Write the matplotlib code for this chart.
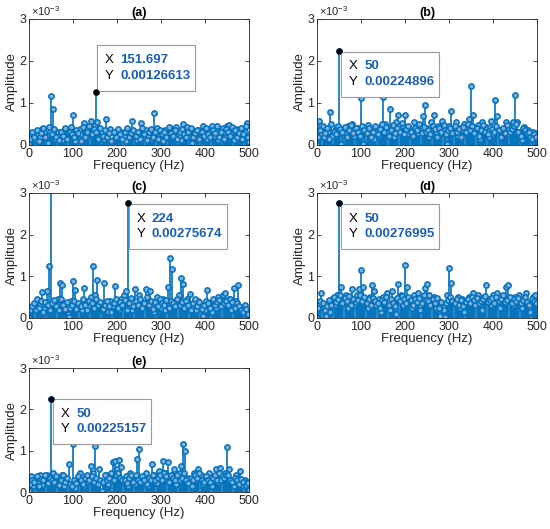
import numpy as np
from matplotlib import pyplot as plt

plt.rcParams['font.family'] = ['Liberation Sans', 'DejaVu Sans']
plt.rcParams['mathtext.fontset'] = 'custom'
plt.rcParams['mathtext.rm'] = 'Liberation Sans'

# frequency grids (Hz), amplitudes in units of 1e-3
freq = np.arange(0, 505, 5)
freq_mid = np.arange(2.5, 500, 5)

amp_a = [0.02, 0.22, 0.28, 0.12, 0.25, 0.18, 0.38, 0.32, 0.22, 0.42,
         1.17, 0.85, 0.15, 0.30, 0.22, 0.12, 0.35, 0.20, 0.28, 0.42,
         0.72, 0.10, 0.25, 0.38, 0.15, 0.53, 0.22, 0.30, 0.58, 0.35,
         0.48, 0.55, 0.20, 0.30, 0.15, 0.62, 0.28, 0.38, 0.12, 0.25,
         0.33, 0.18, 0.30, 0.22, 0.10, 0.32, 0.25, 0.57, 0.20, 0.12,
         0.28, 0.52, 0.18, 0.35, 0.22, 0.30, 0.15, 0.75, 0.40, 0.22,
         0.28, 0.10, 0.35, 0.25, 0.40, 0.18, 0.30, 0.42, 0.22, 0.12,
         0.50, 0.28, 0.42, 0.20, 0.05, 0.30, 0.25, 0.35, 0.18, 0.45,
         0.28, 0.15, 0.32, 0.45, 0.22, 0.38, 0.12, 0.28, 0.40, 0.20,
         0.45, 0.48, 0.25, 0.12, 0.38, 0.22, 0.35, 0.15, 0.30, 0.53,
         0.08]
mid_a = [0.15, 0.30, 0.20, 0.35, 0.10, 0.28, 0.40, 0.18, 0.05, 0.30,
         0.25, 0.38, 0.20, 0.12, 0.30, 0.22, 0.40, 0.15, 0.32, 0.25,
         0.18, 0.35, 0.28, 0.10, 0.42, 0.20, 0.30, 0.45, 0.25, 0.38,
         0.30, 0.15, 0.40, 0.22, 0.35, 0.18, 0.28, 0.10, 0.32, 0.20,
         0.38, 0.25, 0.15, 0.30, 0.40, 0.18, 0.28, 0.35, 0.22, 0.30,
         0.15, 0.40, 0.25, 0.12, 0.32, 0.38, 0.20, 0.30, 0.15, 0.35,
         0.25, 0.30, 0.18, 0.42, 0.28, 0.22, 0.35, 0.15, 0.30, 0.38,
         0.25, 0.18, 0.32, 0.40, 0.20, 0.28, 0.35, 0.15, 0.30, 0.22,
         0.40, 0.25, 0.18, 0.35, 0.28, 0.45, 0.20, 0.32, 0.15, 0.38,
         0.30, 0.22, 0.42, 0.35, 0.18, 0.28, 0.40, 0.25, 0.45, 0.20]

amp_b = [0.00, 0.57, 0.25, 0.18, 0.38, 0.30, 0.78, 0.22, 0.35, 0.42,
         2.249, 0.02, 0.38, 0.25, 0.45, 0.30, 0.50, 0.22, 0.40, 0.35,
         1.12, 0.02, 0.30, 0.48, 0.25, 0.35, 0.15, 0.30, 0.22, 0.45,
         1.15, 0.50, 0.28, 0.85, 0.40, 0.18, 0.55, 0.72, 0.30, 0.45,
         0.72, 0.25, 0.40, 0.18, 0.55, 0.35, 0.28, 0.45, 0.68, 0.95,
         0.40, 0.20, 0.55, 0.72, 0.30, 0.45, 0.25, 0.58, 0.38, 0.02,
         0.45, 0.82, 0.30, 0.55, 0.22, 0.40, 0.35, 0.50, 0.28, 0.62,
         1.40, 0.72, 0.35, 0.48, 0.15, 0.55, 0.30, 0.42, 0.20, 0.58,
         0.25, 1.07, 0.68, 0.35, 0.18, 0.30, 0.55, 0.25, 0.45, 0.55,
         1.20, 0.55, 0.30, 0.12, 0.42, 0.25, 0.35, 0.18, 0.32, 0.20,
         0.28]
mid_b = [0.20, 0.35, 0.45, 0.28, 0.40, 0.15, 0.50, 0.32, 0.25, 0.45,
         0.38, 0.30, 0.42, 0.20, 0.35, 0.48, 0.28, 0.40, 0.30, 0.22,
         0.45, 0.35, 0.28, 0.40, 0.18, 0.32, 0.45, 0.25, 0.38, 0.50,
         0.30, 0.42, 0.22, 0.35, 0.48, 0.28, 0.40, 0.32, 0.52, 0.25,
         0.38, 0.45, 0.30, 0.22, 0.40, 0.35, 0.50, 0.28, 0.42, 0.30,
         0.35, 0.25, 0.45, 0.38, 0.20, 0.40, 0.30, 0.48, 0.25, 0.35,
         0.40, 0.28, 0.45, 0.32, 0.38, 0.20, 0.42, 0.30, 0.50, 0.35,
         0.45, 0.28, 0.40, 0.22, 0.35, 0.48, 0.30, 0.25, 0.42, 0.38,
         0.30, 0.45, 0.35, 0.20, 0.40, 0.28, 0.48, 0.32, 0.38, 0.45,
         0.50, 0.30, 0.22, 0.40, 0.35, 0.28, 0.30, 0.15, 0.25, 0.20]

amp_c = [0.00, 0.25, 0.32, 0.18, 0.42, 0.30, 0.62, 0.22, 0.65, 1.25,
         3.60, 0.35, 0.30, 0.45, 0.85, 0.80, 0.35, 0.20, 0.02, 0.40,
         0.88, 0.68, 0.25, 0.30, 0.18, 0.72, 0.40, 0.28, 0.50, 1.25,
         0.55, 0.92, 0.30, 0.20, 0.85, 0.35, 0.15, 0.40, 0.28, 0.77,
         0.35, 0.20, 0.45, 0.55, 0.65, 0.40, 0.25, 0.18, 0.70, 0.35,
         0.55, 0.40, 0.28, 0.70, 0.45, 0.65, 0.30, 0.15, 0.50, 0.35,
         0.25, 0.45, 0.20, 0.75, 1.45, 1.17, 0.30, 0.40, 0.55, 0.97,
         0.82, 0.30, 0.45, 0.57, 0.25, 0.35, 0.18, 0.40, 0.28, 0.05,
         0.20, 0.67, 0.35, 0.15, 0.40, 0.25, 0.50, 0.35, 0.55, 0.60,
         0.30, 0.45, 0.20, 0.72, 0.40, 0.80, 0.25, 0.15, 0.30, 0.12,
         0.05]
mid_c = [0.18, 0.28, 0.35, 0.45, 0.25, 0.40, 0.15, 0.38, 0.30, 0.20,
         0.35, 0.42, 0.28, 0.18, 0.45, 0.30, 0.22, 0.38, 0.25, 0.32,
         0.40, 0.22, 0.35, 0.28, 0.45, 0.30, 0.18, 0.40, 0.35, 0.25,
         0.45, 0.30, 0.38, 0.22, 0.32, 0.40, 0.28, 0.15, 0.35, 0.45,
         0.25, 0.38, 0.30, 0.42, 0.20, 0.35, 0.48, 0.28, 0.40, 0.30,
         0.45, 0.25, 0.35, 0.50, 0.30, 0.40, 0.22, 0.38, 0.28, 0.45,
         0.35, 0.30, 0.42, 0.25, 0.40, 0.35, 0.28, 0.45, 0.30, 0.38,
         0.25, 0.40, 0.32, 0.20, 0.35, 0.45, 0.28, 0.38, 0.22, 0.30,
         0.40, 0.35, 0.25, 0.45, 0.30, 0.38, 0.42, 0.28, 0.35, 0.40,
         0.30, 0.45, 0.38, 0.25, 0.35, 0.28, 0.20, 0.15, 0.22, 0.10]

amp_d = [0.00, 0.30, 0.60, 0.25, 0.05, 0.35, 0.15, 0.45, 0.30, 0.55,
         2.77, 0.75, 0.40, 0.55, 0.25, 0.45, 0.70, 0.30, 0.55, 0.70,
         1.15, 0.75, 0.40, 0.25, 0.50, 0.78, 0.65, 0.30, 0.45, 0.15,
         0.50, 0.35, 0.60, 0.20, 0.65, 0.40, 0.10, 0.82, 0.55, 0.30,
         1.27, 0.75, 0.40, 0.25, 0.55, 0.35, 0.60, 0.20, 0.45, 0.72,
         0.82, 0.55, 0.30, 0.50, 0.25, 0.40, 0.05, 0.35, 0.02, 0.55,
         1.20, 0.85, 0.40, 0.30, 0.50, 0.25, 0.45, 0.15, 0.35, 0.50,
         0.40, 0.60, 0.30, 0.55, 0.45, 0.20, 0.50, 0.78, 0.45, 0.30,
         0.55, 0.40, 0.60, 0.25, 0.45, 0.35, 0.75, 0.78, 0.45, 0.30,
         0.50, 0.40, 0.55, 0.25, 0.45, 0.60, 0.35, 0.15, 0.50, 0.55,
         0.30]
mid_d = [0.25, 0.40, 0.35, 0.20, 0.28, 0.42, 0.30, 0.50, 0.38, 0.45,
         0.55, 0.35, 0.48, 0.40, 0.52, 0.30, 0.45, 0.38, 0.42, 0.55,
         0.40, 0.50, 0.35, 0.45, 0.30, 0.48, 0.40, 0.35, 0.25, 0.42,
         0.38, 0.50, 0.30, 0.45, 0.35, 0.28, 0.48, 0.40, 0.52, 0.45,
         0.35, 0.50, 0.42, 0.30, 0.45, 0.38, 0.48, 0.35, 0.55, 0.42,
         0.40, 0.30, 0.45, 0.35, 0.48, 0.25, 0.38, 0.20, 0.35, 0.42,
         0.50, 0.40, 0.35, 0.45, 0.30, 0.42, 0.28, 0.38, 0.45, 0.35,
         0.50, 0.42, 0.48, 0.35, 0.40, 0.45, 0.52, 0.38, 0.42, 0.48,
         0.35, 0.50, 0.40, 0.45, 0.55, 0.38, 0.42, 0.50, 0.35, 0.45,
         0.40, 0.48, 0.35, 0.42, 0.50, 0.38, 0.30, 0.45, 0.40, 0.35]

amp_e = [0.02, 0.38, 0.15, 0.30, 0.22, 0.40, 0.18, 0.35, 0.42, 0.28,
         2.25, 0.45, 0.30, 0.20, 0.35, 0.42, 0.15, 0.30, 0.67, 0.20,
         1.15, 0.10, 0.25, 0.45, 0.30, 0.15, 0.38, 0.25, 0.62, 0.45,
         1.12, 0.30, 0.55, 0.02, 0.25, 0.40, 0.20, 0.35, 0.72, 0.75,
         0.55, 0.78, 0.60, 0.25, 0.38, 0.15, 0.45, 0.30, 0.20, 0.80,
         1.05, 0.35, 0.25, 0.45, 0.15, 0.30, 0.67, 0.40, 0.22, 0.50,
         0.35, 0.75, 0.45, 0.72, 0.28, 0.40, 0.55, 0.20, 0.45, 0.62,
         1.15, 1.00, 0.35, 0.25, 0.15, 0.45, 0.30, 0.55, 0.40, 0.20,
         0.35, 0.28, 0.45, 0.15, 0.30, 0.55, 0.25, 0.58, 0.30, 0.45,
         1.10, 0.55, 0.30, 0.15, 0.40, 0.22, 0.52, 0.18, 0.30, 0.25,
         0.05]
mid_e = [0.20, 0.30, 0.25, 0.38, 0.15, 0.32, 0.28, 0.40, 0.22, 0.35,
         0.30, 0.25, 0.38, 0.18, 0.30, 0.40, 0.25, 0.35, 0.20, 0.15,
         0.30, 0.22, 0.38, 0.28, 0.20, 0.35, 0.42, 0.30, 0.38, 0.25,
         0.35, 0.20, 0.30, 0.25, 0.40, 0.28, 0.35, 0.45, 0.30, 0.40,
         0.45, 0.35, 0.28, 0.30, 0.22, 0.35, 0.40, 0.25, 0.42, 0.30,
         0.25, 0.38, 0.30, 0.20, 0.35, 0.28, 0.42, 0.30, 0.35, 0.40,
         0.30, 0.45, 0.38, 0.25, 0.42, 0.35, 0.28, 0.40, 0.30, 0.35,
         0.45, 0.30, 0.22, 0.35, 0.28, 0.40, 0.35, 0.45, 0.30, 0.25,
         0.38, 0.30, 0.25, 0.35, 0.42, 0.30, 0.45, 0.28, 0.35, 0.40,
         0.42, 0.30, 0.25, 0.35, 0.28, 0.20, 0.32, 0.25, 0.18, 0.22]

# extra bins that are not on the grids
extra_a = ([151.697], [1.26613])
extra_c = ([224], [2.75674])

# data tips: (x, y, x text, y text, box left, box bottom)
tips = {
    'a': (151.697, 1.26613, '151.697', '0.00126613', 155, 1.29),
    'b': (50, 2.24896, '50', '0.00224896', 55, 1.14),
    'c': (224, 2.75674, '224', '0.00275674', 227, 1.65),
    'd': (50, 2.76995, '50', '0.00276995', 55, 1.65),
    'e': (50, 2.25157, '50', '0.00225157', 55, 1.16),
}

panels = [
    ('a', amp_a, mid_a, extra_a, [0.0527, 0.7259, 0.4, 0.2382]),
    ('b', amp_b, mid_b, None, [0.5764, 0.7259, 0.4, 0.2382]),
    ('c', amp_c, mid_c, extra_c, [0.0527, 0.3989, 0.4, 0.2363]),
    ('d', amp_d, mid_d, None, [0.5764, 0.3989, 0.4, 0.2363]),
    ('e', amp_e, mid_e, None, [0.0527, 0.0699, 0.4, 0.2344]),
]

blue = '#0072BD'
tip_blue = '#1a5fb4'
dark = '#262626'

fig = plt.figure(figsize=(5.5, 5.29), dpi=100)

for name, amp, mid, extra, pos in panels:
    ax = fig.add_axes(pos)
    x = np.concatenate([freq, freq_mid]).astype(float)
    y = np.concatenate([amp, mid]).astype(float)
    if extra is not None:
        x = np.append(x, extra[0])
        y = np.append(y, extra[1])

    markerline, stemlines, baseline = ax.stem(x, y, basefmt=' ')
    stemlines.set_color(blue)
    stemlines.set_linewidth(1.2)
    markerline.set_color(blue)
    markerline.set_markersize(3.8)
    markerline.set_markeredgewidth(1.1)
    markerline.set_markerfacecolor('#7fb0dc')

    ax.set_xlim(0, 500)
    ax.set_ylim(0, 3)
    ax.set_xticks([0, 100, 200, 300, 400, 500])
    ax.set_yticks([0, 1, 2, 3])
    ax.tick_params(direction='in', length=3, labelsize=9, width=0.6,
                   top=True, right=True, pad=2, colors=dark)
    for sp in ax.spines.values():
        sp.set_linewidth(0.6)
        sp.set_color(dark)

    ax.set_xlabel('Frequency (Hz)', fontsize=9.5, labelpad=0, color=dark)
    ax.set_ylabel('Amplitude', fontsize=9.5, labelpad=1, color=dark)
    ax.set_title('(%s)' % name, fontsize=9, fontweight='bold', pad=2)
    ax.text(0.01, 1.01, r'$\times10^{-3}$', transform=ax.transAxes,
            fontsize=8, ha='left', va='bottom', color=dark)

    # data tip
    tx, ty, sx, sy, bx, by = tips[name]
    ax.add_patch(plt.Rectangle((bx, by), 222, 1.08, facecolor='white',
                               edgecolor='#9a9a9a', linewidth=0.8, zorder=5))
    ax.plot([tx], [ty], 'o', color='black', markersize=3.5, zorder=6)
    ax.text(bx + 17, by + 0.73, 'X', fontsize=9.5, va='center', ha='left',
            color='black', zorder=7)
    ax.text(bx + 17, by + 0.36, 'Y', fontsize=9.5, va='center', ha='left',
            color='black', zorder=7)
    ax.text(bx + 52, by + 0.73, sx, fontsize=9.5, va='center', ha='left',
            color=tip_blue, fontweight='bold', zorder=7)
    ax.text(bx + 52, by + 0.36, sy, fontsize=9.5, va='center', ha='left',
            color=tip_blue, fontweight='bold', zorder=7)

plt.savefig('out.png', dpi=100)
